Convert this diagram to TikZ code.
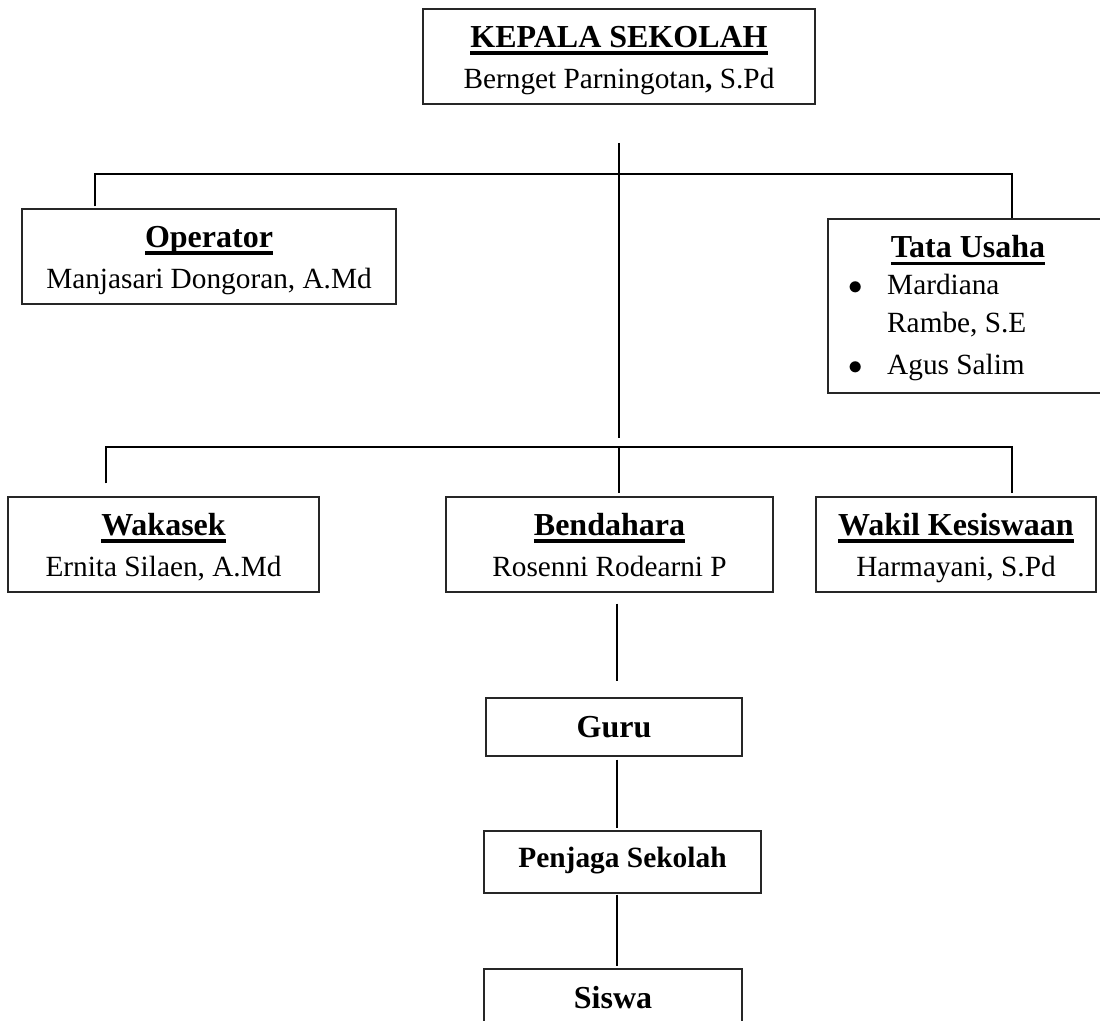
\documentclass[tikz,border=0pt]{standalone}
\usepackage{fontspec}
\setmainfont{Liberation Serif}
\newcommand{\jabatan}[1]{\setbox0\hbox{\bfseries\fontsize{16pt}{20pt}\selectfont #1}\rlap{\rule[-3.6pt]{\wd0}{1.6pt}}\box0}
\begin{document}
\begin{tikzpicture}[x=0.5pt,y=-0.5pt,line width=0.8pt,
	kotak/.style={draw=black!85,line width=0.65pt,inner sep=0pt,align=center,
		font=\fontsize{14.65pt}{20.75pt}\selectfont,
		minimum height=47.5pt,text height=40pt,text depth=7.5pt},
	tebal/.style={kotak,font=\bfseries\fontsize{#1}{20pt}\selectfont}]
		\useasboundingbox (0,0) rectangle (1100,1021);
		\clip (0,0) rectangle (1100,1021);
		\node[kotak,minimum width=196pt] (kepala) at (619,56.5) {\jabatan{KEPALA SEKOLAH}\\Bernget Parningotan\textbf{,} S.Pd};
		\node[kotak,minimum width=187pt] (operator) at (209,256.5) {\jabatan{Operator}\\Manjasari Dongoran, A.Md};
		\node[kotak,minimum width=138pt,minimum height=87pt] (tata) at (966,306) {};
		\node[anchor=base,inner sep=0pt] (tatajudul) at (968,258) {\jabatan{Tata Usaha}};
		\node[anchor=base west,inner sep=0pt,font=\fontsize{14.65pt}{19pt}\selectfont] (tataisi) at (848,295) {\begin{tabular}[t]{@{}l@{\hspace{12pt}}l@{}}$\bullet$ & Mardiana\\ & Rambe, S.E\\[2pt]$\bullet$ & Agus Salim\end{tabular}};
		\node[kotak,minimum width=155.5pt] (wakasek) at (163.5,544.5) {\jabatan{Wakasek}\\Ernita Silaen, A.Md};
		\node[kotak,minimum width=163.5pt] (bendahara) at (609.5,544.5) {\jabatan{Bendahara}\\Rosenni Rodearni P};
		\node[kotak,minimum width=140pt] (wakil) at (956,544.5) {\jabatan{Wakil Kesiswaan}\\Harmayani, S.Pd};
		\node[tebal=16pt,minimum width=128pt,minimum height=29pt,text height=20pt,text depth=9pt] (guru) at (614,727) {Guru};
		\node[tebal=14.7pt,minimum width=138.5pt,minimum height=31pt,text height=18.5pt,text depth=12.5pt] (penjaga) at (622.5,862) {Penjaga Sekolah};
		\node[tebal=16pt,minimum width=129pt,minimum height=40pt,text height=20pt,text depth=20pt] (siswa) at (613,1009) {Siswa};
		\coordinate (atas1) at (619,143);
		\coordinate (atas2) at (619,438);
		\coordinate (kiri1) at (95,174);
		\coordinate (kanan1) at (1012,174);
		\coordinate (kiri2) at (106,447);
		\coordinate (kanan2) at (1012,447);
		\coordinate (tengah) at (617,0);
		\draw (atas1) -- (atas2);
		\draw[shorten <=1pt] (kiri1 |- operator.north) -- (kiri1) -- (kanan1) -- (kanan1 |- tata.north);
		\draw[shorten <=6.5pt,shorten >=1.5pt] (kiri2 |- wakasek.north) -- (kiri2) -- (kanan2) -- (kanan2 |- wakil.north);
		\draw[shorten >=1.5pt] (atas2 |- kiri2) -- (atas2 |- bendahara.north);
		\foreach \a/\b/\p/\q in {bendahara/guru/5.5pt/8pt,guru/penjaga/1.5pt/1pt,penjaga/siswa/0.5pt/1pt}
		\draw[shorten <=\p,shorten >=\q] (tengah |- \a.south) -- (tengah |- \b.north);
\end{tikzpicture}
\end{document}
